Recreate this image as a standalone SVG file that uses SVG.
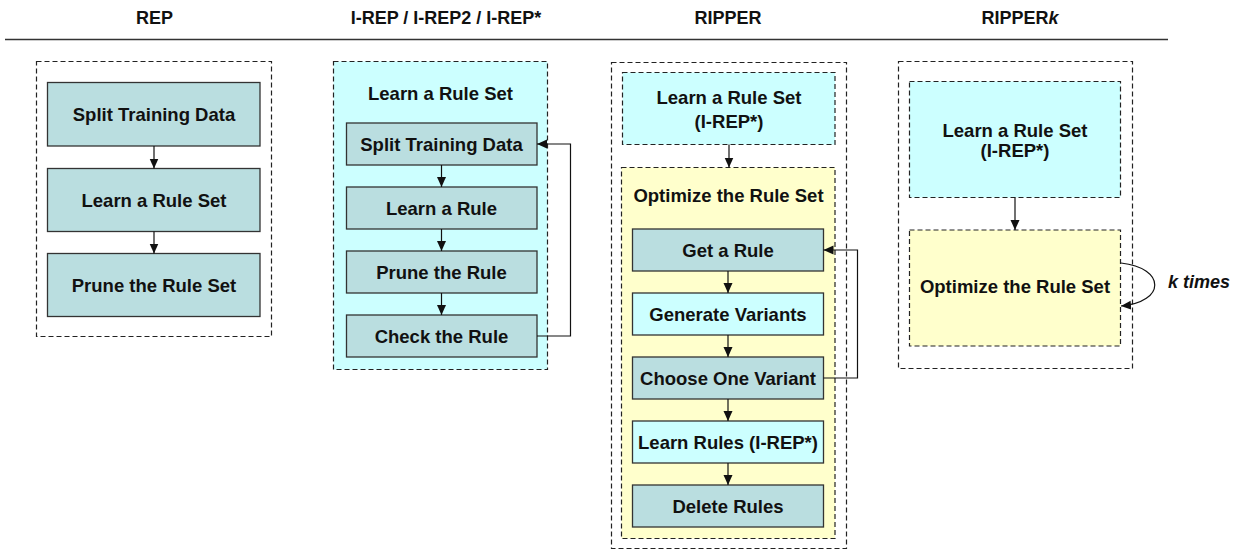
<svg xmlns="http://www.w3.org/2000/svg" width="1240" height="551" viewBox="0 0 1240 551">
  <style>
    .hdr { font-family: "Liberation Sans", Arial, sans-serif; font-weight: bold; font-size: 18px; fill: #111; text-anchor: middle; }
    .lbl { font-family: "Liberation Sans", Arial, sans-serif; font-weight: bold; font-size: 18.5px; fill: #111; text-anchor: middle; }
    .kt { font-family: "Liberation Sans", Arial, sans-serif; font-weight: bold; font-style: italic; font-size: 18px; fill: #111; }
    .frame { fill: #ffffff; stroke: #222; stroke-width: 1.2; stroke-dasharray: 5 3; }
    .grp-cyan { fill: #CCFFFF; stroke: #222; stroke-width: 1.2; stroke-dasharray: 5 3; }
    .grp-yellow { fill: #FFFFCC; stroke: #222; stroke-width: 1.2; stroke-dasharray: 5 3; }
    .step { fill: #BADEE0; stroke: #333; stroke-width: 1.3; }
    .step-cyan { fill: #CCFFFF; stroke: #333; stroke-width: 1.3; }
    .link { fill: none; stroke: #111; stroke-width: 1.2; marker-end: url(#head); }
  </style>
  <defs>
    <marker id="head" viewBox="0 0 10 10" refX="10" refY="5" markerWidth="10" markerHeight="10" markerUnits="userSpaceOnUse" orient="auto">
      <path d="M0,0.5 L10,5 L0,9.5 z" fill="#111"/>
    </marker>
  </defs>

  <rect width="1240" height="551" fill="#ffffff"/>

  <!-- column headings -->
  <g id="headings">
    <text class="hdr" x="154.5" y="24">REP</text>
    <text class="hdr" x="446" y="24">I-REP / I-REP2 / I-REP*</text>
    <text class="hdr" x="728" y="24">RIPPER</text>
    <text class="hdr" x="1020" y="24">RIPPER<tspan font-style="italic">k</tspan></text>
    <line x1="5" y1="39.5" x2="1168" y2="39.5" stroke="#333" stroke-width="1.6"/>
  </g>

  <!-- REP -->
  <g id="rep">
    <rect class="frame" x="36.5" y="61.5" width="235" height="275"/>
    <g id="rep-split">
      <rect class="step" x="47.5" y="82.5" width="212.5" height="63.5"/>
      <text class="lbl" x="154" y="120.5">Split Training Data</text>
    </g>
    <g id="rep-learn">
      <rect class="step" x="47.5" y="168.5" width="212.5" height="63"/>
      <text class="lbl" x="154" y="206.5">Learn a Rule Set</text>
    </g>
    <g id="rep-prune">
      <rect class="step" x="47.5" y="253.5" width="212.5" height="63"/>
      <text class="lbl" x="154" y="291.5">Prune the Rule Set</text>
    </g>
  </g>

  <!-- I-REP -->
  <g id="irep">
    <rect class="grp-cyan" x="333.5" y="61.5" width="214" height="308"/>
    <text class="lbl" x="440.5" y="100">Learn a Rule Set</text>
    <g id="irep-split">
      <rect class="step" x="346.5" y="123" width="190.5" height="42"/>
      <text class="lbl" x="441.5" y="150.5">Split Training Data</text>
    </g>
    <g id="irep-learn">
      <rect class="step" x="346.5" y="187" width="190.5" height="42"/>
      <text class="lbl" x="441.5" y="214.5">Learn a Rule</text>
    </g>
    <g id="irep-prune">
      <rect class="step" x="346.5" y="251" width="190.5" height="42"/>
      <text class="lbl" x="441.5" y="278.5">Prune the Rule</text>
    </g>
    <g id="irep-check">
      <rect class="step" x="346.5" y="315" width="190.5" height="42"/>
      <text class="lbl" x="441.5" y="342.5">Check the Rule</text>
    </g>
  </g>

  <!-- RIPPER -->
  <g id="ripper">
    <rect class="frame" x="611.5" y="62.5" width="235" height="486"/>
    <g id="ripper-learnset">
      <rect class="grp-cyan" x="622.5" y="72.5" width="212.5" height="72"/>
      <text class="lbl" x="729" y="104">Learn a Rule Set</text>
      <text class="lbl" x="729" y="128">(I-REP*)</text>
    </g>
    <g id="ripper-optimize">
      <rect class="grp-yellow" x="621.5" y="167.5" width="213.5" height="371"/>
      <text class="lbl" x="728.5" y="202">Optimize the Rule Set</text>
    </g>
    <g id="ripper-get">
      <rect class="step" x="632.5" y="229" width="191" height="42"/>
      <text class="lbl" x="728" y="256.5">Get a Rule</text>
    </g>
    <g id="ripper-generate">
      <rect class="step-cyan" x="632.5" y="293" width="191" height="42"/>
      <text class="lbl" x="728" y="320.5">Generate Variants</text>
    </g>
    <g id="ripper-choose">
      <rect class="step" x="632.5" y="357" width="191" height="42"/>
      <text class="lbl" x="728" y="384.5">Choose One Variant</text>
    </g>
    <g id="ripper-learnrules">
      <rect class="step-cyan" x="632.5" y="421" width="191" height="42"/>
      <text class="lbl" x="728" y="448.5">Learn Rules (I-REP*)</text>
    </g>
    <g id="ripper-delete">
      <rect class="step" x="632.5" y="485" width="191" height="42"/>
      <text class="lbl" x="728" y="512.5">Delete Rules</text>
    </g>
  </g>

  <!-- RIPPERk -->
  <g id="ripperk">
    <rect class="frame" x="898.5" y="61.5" width="234" height="307"/>
    <g id="ripperk-learnset">
      <rect class="grp-cyan" x="909.5" y="81.5" width="211" height="116"/>
      <text class="lbl" x="1015" y="137">Learn a Rule Set</text>
      <text class="lbl" x="1015" y="157">(I-REP*)</text>
    </g>
    <g id="ripperk-optimize">
      <rect class="grp-yellow" x="909.5" y="230" width="211" height="116"/>
      <text class="lbl" x="1015" y="293">Optimize the Rule Set</text>
    </g>
    <text class="kt" x="1168" y="288">k times</text>
  </g>

  <!-- connectors -->
  <g id="connectors">
    <path class="link" d="M154,146 L154,168.5"/>
    <path class="link" d="M154,231.5 L154,253.5"/>

    <path class="link" d="M441.5,165 L441.5,187"/>
    <path class="link" d="M441.5,229 L441.5,251"/>
    <path class="link" d="M441.5,293 L441.5,315"/>
    <path class="link" d="M537,336 L570.5,336 L570.5,144 L537,144"/>

    <path class="link" d="M729,144.5 L729,167.5"/>
    <path class="link" d="M728,271 L728,293"/>
    <path class="link" d="M728,335 L728,357"/>
    <path class="link" d="M728,399 L728,421"/>
    <path class="link" d="M728,463 L728,485"/>
    <path class="link" d="M823.5,378 L857.5,378 L857.5,250 L823.5,250"/>

    <path class="link" d="M1015,197.5 L1015,230"/>
    <path class="link" d="M1121,263 C1166,268 1166,302 1121,306"/>
  </g>
</svg>
